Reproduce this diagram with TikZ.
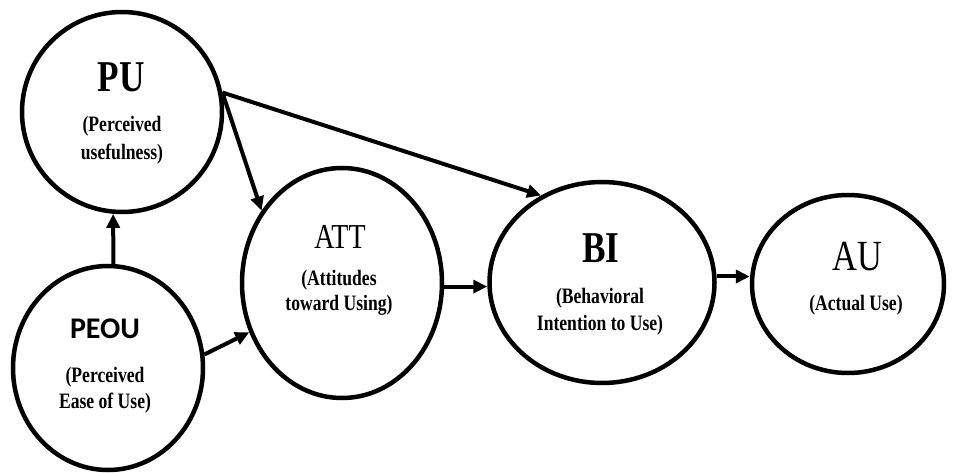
\documentclass[tikz,border=0pt]{standalone}
\usepackage{fontspec}
\setmainfont{Liberation Serif}
\newfontfamily\condserif[FakeStretch=0.8]{Liberation Serif}
\newfontfamily\calib{Carlito}
\usetikzlibrary{shapes.geometric,arrows.meta}
\tikzset{
  oval/.style={ellipse, draw=black, line width=4.5pt, inner sep=0pt, fill=white},
  arr/.style={line width=4pt, -{Triangle[length=14pt,width=13pt]}},
  bigb/.style={inner sep=0pt, anchor=base, font=\condserif\bfseries\fontsize{44}{44}\selectfont},
  bigr/.style={inner sep=0pt, anchor=base},
  sub/.style={inner sep=0pt, anchor=base, font=\condserif\bfseries\fontsize{22}{22}\selectfont},
}
\begin{document}
\begin{tikzpicture}[x=1pt,y=-1pt]
\useasboundingbox (0,0) rectangle (953,473);
% ellipses
\node[oval, minimum width=200pt, minimum height=200pt] (pu) at (122,112) {};
\node[oval, minimum width=190pt, minimum height=204pt] (peou) at (108,368) {};
\node[oval, minimum width=200pt, minimum height=230pt] (att) at (342,283) {};
\node[oval, minimum width=225pt, minimum height=201pt] (bi) at (602,282.5) {};
\node[oval, minimum width=192pt, minimum height=178pt] (au) at (848,284) {};
% texts
\node[bigb] (puT) at (121,92) {PU};
\node[sub] (puS1) at (122,132) {(Perceived};
\node[sub] (puS2) at (122,160) {usefulness)};
\node[inner sep=0pt, anchor=base, font=\calib\bfseries\fontsize{30}{30}\selectfont] (peouT) at (105,338) {PEOU};
\node[sub] (peouS1) at (105,382) {(Perceived};
\node[sub] (peouS2) at (105,408) {Ease of Use)};
\node[bigr, font=\condserif\fontsize{35}{35}\selectfont] (attT) at (340,248) {ATT};
\node[sub] (attS1) at (339,285) {(Attitudes};
\node[sub] (attS2) at (339,310) {toward Using)};
\node[bigb] (biT) at (601,262) {BI};
\node[sub] (biS1) at (600,303) {(Behavioral};
\node[sub] (biS2) at (600,330) {Intention to Use)};
\node[bigr, font=\condserif\fontsize{43}{43}\selectfont] (auT) at (857,270) {AU};
\node[sub] (auS1) at (856,310) {(Actual Use)};
% connectors
\draw[arr] (peou.87) -- (pu.265);
\draw[arr] (pu.11) -- (att.138);
\draw[arr] (pu.11) -- (bi.125);
\draw[arr] (peou.8) -- (att.208);
\draw[arr] (att.-2) -- (att.-2 -| bi.west);
\draw[arr] (bi.3) -- (bi.3 -| au.west);
\end{tikzpicture}
\end{document}
